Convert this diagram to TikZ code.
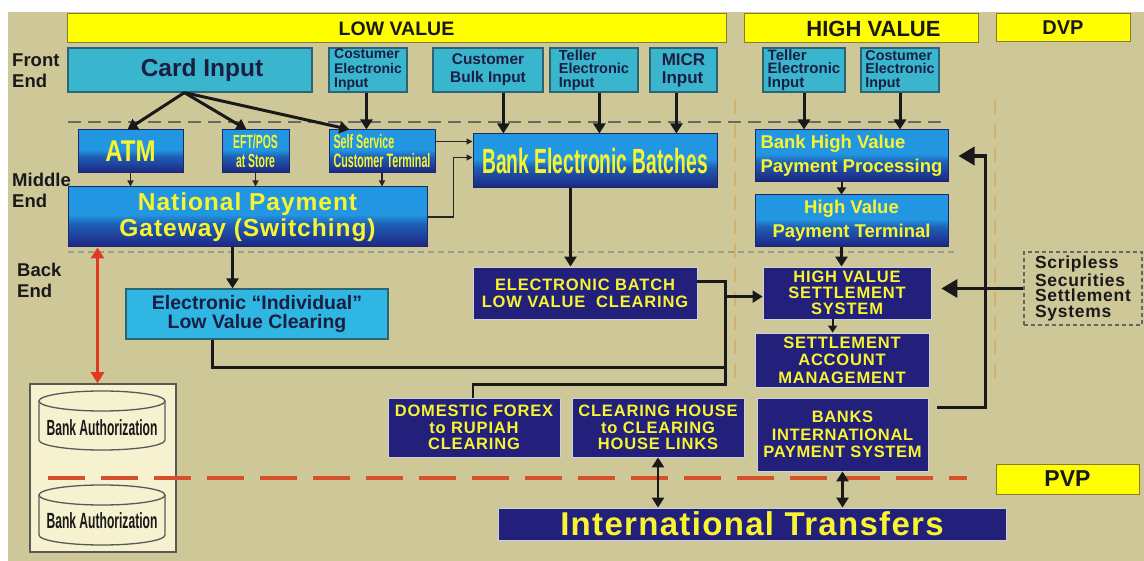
\documentclass[tikz,border=0pt]{standalone}
\usepackage{fontspec}
\setmainfont{Liberation Sans}
\newfontfamily\narf[FakeStretch=0.55]{Liberation Sans}
\newfontfamily\semf[FakeStretch=0.8]{Liberation Sans}
\usetikzlibrary{arrows.meta,calc}
\definecolor{bgtan}{HTML}{CEC898}
\definecolor{ybar}{HTML}{FFFF00}
\definecolor{ybarline}{HTML}{8C7A2E}
\definecolor{cyanF}{HTML}{3AB5CE}
\definecolor{cyanE}{HTML}{2FB6E2}
\definecolor{cyanD}{HTML}{2C6474}
\definecolor{cyanT}{HTML}{1A1E40}
\definecolor{blueT}{HTML}{2396E2}
\definecolor{blueM}{HTML}{1F5EB4}
\definecolor{navyB}{HTML}{1D2582}
\definecolor{gradD}{HTML}{1B2A66}
\definecolor{navyF}{HTML}{23207C}
\definecolor{navyD}{HTML}{CFCFE0}
\definecolor{ytext}{HTML}{F8F530}
\definecolor{redA}{HTML}{E2381F}
\definecolor{redD}{HTML}{D6502C}
\definecolor{cream}{HTML}{F6F1CE}
\definecolor{dashG}{HTML}{6A6A60}
\definecolor{dashL}{HTML}{9E9C8A}
\definecolor{vdashC}{HTML}{D5B06A}
\pgfdeclareverticalshading{bluebox}{100bp}{color(0bp)=(navyB); color(25bp)=(navyB); color(44bp)=(blueM); color(52bp)=(blueT); color(75bp)=(blueT); color(100bp)=(blueT)}
\newcommand\fsz[2]{\fontsize{#1}{#2}\selectfont}
\newcommand\mybox[8][]{%
  \pgfmathsetmacro\mbw{#6-#4}%
  \pgfmathsetmacro\mbh{#7-#5}%
  \pgfmathsetmacro\mbx{(#4+#6)/2}%
  \pgfmathsetmacro\mby{(#5+#7)/2}%
  \node[#2,minimum width=\mbw pt,minimum height=\mbh pt,#1] (#3) at (\mbx,\mby) {#8};}
\tikzset{
  ybox/.style={fill=ybar, draw=ybarline, line width=1pt, inner sep=0pt, text=black!90},
  cbox/.style={fill=cyanF, draw=cyanD, line width=1.2pt, inner xsep=3pt, inner ysep=0pt, text=cyanT},
  gbox/.style={shading=bluebox, draw=gradD, line width=1pt, inner xsep=3pt, inner ysep=0pt, text=ytext},
  nbox/.style={fill=navyF, draw=navyD, line width=0.8pt, inner xsep=3pt, inner ysep=0pt, text=ytext, align=center},
  arr/.style={draw=black!90, line width=3pt, -{Triangle[length=10pt,width=12pt]}},
  midarr/.style={draw=black!90, line width=2pt, -{Triangle[length=7pt,width=9pt]}},
  bigarr/.style={draw=black!90, line width=3.5pt, -{Triangle[length=16pt,width=18pt]}},
  thinarr/.style={draw=black!85, line width=1.3pt, -{Triangle[length=6pt,width=6pt]}},
  darr/.style={draw=black!90, line width=2.5pt, {Triangle[length=10pt,width=12pt]}-{Triangle[length=10pt,width=12pt]}},
  rarr/.style={draw=redA, line width=3pt, {Triangle[length=11pt,width=13pt]}-{Triangle[length=11pt,width=13pt]}},
  conn/.style={draw=black!90, line width=2.2pt},
  gdash/.style={draw=dashG, line width=2.5pt, dash pattern=on 13pt off 7pt},
  ldash/.style={draw=dashL, line width=1.5pt, dash pattern=on 6pt off 4pt},
  rdash/.style={draw=redD, line width=4pt, dash pattern=on 37pt off 16pt},
  vdash/.style={draw=vdashC, line width=1.5pt, dash pattern=on 14pt off 10pt},
  lbl/.style={font=\bfseries\fsz{18.5}{21}, text=black!90, align=left, inner sep=0pt, anchor=west},
  cyl/.style={draw=black!65, line width=1.3pt, fill=cream},
}
\begin{document}
\begin{tikzpicture}[x=1pt,y=-1pt]
\useasboundingbox (0,0) rectangle (1144,561);
\fill[white] (0,0) rectangle (1144,561);
\fill[bgtan] (8,12) rectangle (1144,561);

% faint vertical separators and horizontal dashed lines
\draw[vdash] (735,100) -- (735,387);
\draw[vdash] (995,100) -- (995,387);
\draw[gdash] (68,122) -- (947,122);
\draw[ldash] (68,252) -- (957,252);

% side labels
\node[lbl] (fe) at (12,71) {Front\\End};
\node[lbl] (me) at (12,190) {Middle\\End};
\node[lbl] (be) at (17,280) {Back\\End};

% header bars
\mybox[font=\bfseries\fsz{19.5}{22}]{ybox}{lowv}{67}{14}{726}{43}{LOW VALUE\hspace{13pt}}
\mybox[font=\bfseries\fsz{22}{24}]{ybox}{highv}{744}{14}{978}{43}{\hspace{25pt}HIGH VALUE}
\mybox[font=\bfseries\fsz{20}{22}]{ybox}{dvp}{996}{14}{1130}{42}{DVP}
\mybox[font=\bfseries\fsz{23}{24}]{ybox}{pvp}{996}{464}{1139}{494}{PVP}

% front end inputs
\mybox[font=\bfseries\fsz{24.5}{26}]{cbox}{card}{68}{48}{312}{92}{\hspace{24pt}Card Input}
\mybox[font=\bfseries\fsz{14}{14.5}, align=left]{cbox}{cei}{329}{48}{407}{92}{Costumer\\Electronic\\Input}
\mybox[font=\bfseries\fsz{15.5}{18}, align=center]{cbox}{cbi}{433}{48}{543}{92}{Customer\\Bulk Input}
\mybox[font=\bfseries\fsz{14.5}{13.5}, align=left]{cbox}{tei}{550}{48}{638}{92}{Teller\\Electronic\\Input}
\mybox[font=\bfseries\fsz{17}{18}, align=left]{cbox}{micr}{650}{48}{717}{92}{MICR\\Input}
\mybox[font=\bfseries\fsz{15}{13.5}, align=left]{cbox}{hvt}{763}{48}{845}{92}{Teller\\Electronic\\Input}
\mybox[font=\bfseries\fsz{14.3}{13.5}, align=left]{cbox}{hvc}{861}{48}{939}{92}{Costumer\\Electronic\\Input}

% middle end
\mybox[font=\semf\bfseries\fsz{30}{30}]{gbox}{atm}{78}{130}{183}{173}{ATM}
\mybox[font=\narf\bfseries\fsz{19}{19}, align=center]{gbox}{eft}{222}{130}{289}{173}{EFT/POS\\at Store}
\mybox[font=\narf\bfseries\fsz{19.5}{19}, align=left]{gbox}{ss}{329}{130}{435}{173}{Self Service\\Customer Terminal}
\mybox[font=\bfseries\fsz{24.5}{26}\addfontfeatures{LetterSpace=4}, align=center]{gbox}{npg}{68}{187}{427}{247}{National Payment\\Gateway (Switching)}
\mybox[font=\narf\bfseries\fsz{35}{36}]{gbox}{beb}{473}{134}{717}{188}{Bank Electronic Batches}
\mybox[font=\bfseries\fsz{18.5}{24}, align=left]{gbox}{bhv}{755}{130}{948}{182}{Bank High Value\\Payment Processing}
\mybox[font=\bfseries\fsz{18.5}{24}, align=center]{gbox}{hvpt}{755}{195}{948}{247}{High Value\\Payment Terminal}

% back end
\mybox[font=\bfseries\fsz{19.5}{19}, align=center, fill=cyanE]{cbox}{eilvc}{126}{289}{388}{339}{Electronic “Individual”\\Low Value Clearing}
\mybox[font=\bfseries\fsz{16.5}{17}\addfontfeatures{LetterSpace=5}]{nbox}{eblvc}{473}{267}{697}{319}{ELECTRONIC BATCH\\LOW VALUE\ \ CLEARING}
\mybox[font=\bfseries\fsz{16.5}{16}\addfontfeatures{LetterSpace=5}]{nbox}{hvss}{763}{267}{931}{319}{HIGH VALUE\\SETTLEMENT\\SYSTEM}
\mybox[font=\bfseries\fsz{16.5}{17.5}\addfontfeatures{LetterSpace=5}]{nbox}{sam}{755}{333}{929}{387}{SETTLEMENT\\ACCOUNT\\MANAGEMENT}
\mybox[font=\bfseries\fsz{16.5}{17.5}\addfontfeatures{LetterSpace=4}]{nbox}{bips}{757}{398}{928}{471}{BANKS\\INTERNATIONAL\\PAYMENT SYSTEM}
\mybox[font=\bfseries\fsz{16.5}{16.5}\addfontfeatures{LetterSpace=5}]{nbox}{dfrc}{388}{398}{560}{457}{DOMESTIC FOREX\\to RUPIAH\\CLEARING}
\mybox[font=\bfseries\fsz{16.5}{16.5}\addfontfeatures{LetterSpace=5}]{nbox}{chchl}{572}{398}{744}{457}{CLEARING HOUSE\\to CLEARING\\HOUSE LINKS}
\mybox[font=\bfseries\fsz{33}{34}\addfontfeatures{LetterSpace=4}]{nbox}{it}{498}{508}{1006}{540}{International Transfers}
\mybox[font=\bfseries\fsz{17.5}{15.5}\addfontfeatures{LetterSpace=4}, align=left, draw=black!60, line width=1.5pt, dash pattern=on 4pt off 3pt, inner xsep=3pt, inner ysep=0pt, text=black!90]{}{scr}{1024}{252}{1142}{325}{Scripless\\Securities\\Settlement\\Systems}

% bank authorization panel
\mybox[fill=cream, draw=black!65, line width=1.5pt]{}{bauth}{30}{384}{176}{552}{}
\draw[rdash] (48,478) -- (967,478);
\draw[cyl] (39,401) -- (39,440) arc[start angle=180, end angle=360, x radius=63pt, y radius=10pt] -- (165,401);
\draw[cyl] (102,401) ellipse [x radius=63pt, y radius=10pt];
\draw[cyl] (39,495) -- (39,535) arc[start angle=180, end angle=360, x radius=63pt, y radius=10pt] -- (165,495);
\draw[cyl] (102,495) ellipse [x radius=63pt, y radius=10pt];
\node[font=\narf\bfseries\fsz{22}{22}, text=black!90, inner sep=0pt] (ba1) at (102,428) {Bank Authorization};
\node[font=\narf\bfseries\fsz{22}{22}, text=black!90, inner sep=0pt] (ba2) at (102,521) {Bank Authorization};

% connectors: card input
\coordinate (cardo) at ($(card.south west)+(117,0)$);
\draw[arr] (cardo) -- ($(atm.north west)+(50,0)$);
\draw[arr] (cardo) -- ($(eft.north west)+(25,0)$);
\draw[arr] (cardo) -- ($(ss.north west)+(21,0)$);
\coordinate (ceio) at ($(cei.south west)+(38,0)$);
\draw[arr] (ceio) -- (ceio |- ss.north);
\coordinate (cbio) at ($(cbi.south west)+(71,0)$);
\draw[arr] (cbio) -- (cbio |- beb.north);
\coordinate (teio) at ($(tei.south west)+(50,0)$);
\draw[arr] (teio) -- (teio |- beb.north);
\coordinate (micro) at ($(micr.south west)+(27,0)$);
\draw[arr] (micro) -- (micro |- beb.north);
\draw[arr] (hvt.south) -- (hvt.south |- bhv.north);
\draw[arr] (hvc.south) -- (hvc.south |- bhv.north);
\coordinate (bhvo) at ($(bhv.south west)+(87,0)$);
\draw[midarr] (bhvo) -- (bhvo |- hvpt.north);
\coordinate (hvpto) at ($(hvpt.south west)+(87,0)$);
\draw[arr] (hvpto) -- (hvpto |- hvss.north);
\coordinate (hvsso) at ($(hvss.south west)+(70,0)$);
\draw[midarr] (hvsso) -- (hvsso |- sam.north);

% middle end connectors
\draw[thinarr] (atm.south) -- (atm.south |- npg.north);
\draw[thinarr] (eft.south) -- (eft.south |- npg.north);
\draw[thinarr] (ss.south) -- (ss.south |- npg.north);
\coordinate (sso) at ($(ss.north east)+(0,12)$);
\draw[thinarr] (sso) -- (sso -| beb.west);
\draw[thinarr, line width=1.8pt] (npg.east) -- ++(26,0) |- ($(beb.north west)+(0,24)$);
\coordinate (npgo) at ($(npg.south west)+(165,0)$);
\draw[arr] (npgo) -- (npgo |- eilvc.north);
\coordinate (bebo) at ($(beb.south west)+(98,0)$);
\draw[arr] (bebo) -- (bebo |- eblvc.north);

% clearing lines
\coordinate (jt) at ($(eblvc.north east)+(28,15)$);
\coordinate (jb) at ($(eblvc.north east)+(28,118)$);
\coordinate (jm) at ($(jt)+(0,15)$);
\draw[conn] ($(eblvc.north east)+(0,15)$) -- (jt) -- (jb) -| ($(dfrc.north west)+(85,0)$);
\draw[conn] ($(eilvc.south west)+(87,0)$) |- ($(jt)+(0,86)$);
\draw[arr, line width=2.2pt] (jm) -- (jm -| hvss.west);
\draw[bigarr, shorten >=10pt] (scr.west) -- (scr.west -| hvss.east);
\draw[bigarr] ($(bips.north east)+(9,10)$) -| ($(bhv.east)+(37,0)$) -- ($(bhv.east)+(10,0)$);

% international links
\draw[darr] (chchl.south) -- (chchl.south |- it.north);
\draw[darr] (bips.south) -- (bips.south |- it.north);
\coordinate (npgr) at ($(npg.south west)+(30,0)$);
\draw[rarr] (npgr) -- (npgr |- bauth.north);
\end{tikzpicture}
\end{document}
